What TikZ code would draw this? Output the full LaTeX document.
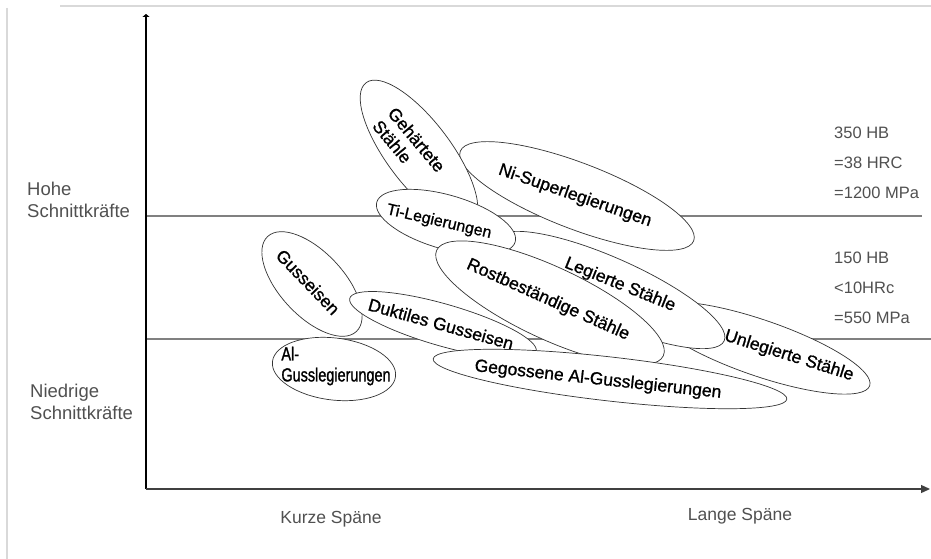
\documentclass[tikz,border=0pt]{standalone}
\usepackage{fontspec}
\setmainfont{Liberation Sans}
\newfontfamily\matfont[FakeBold=1]{Liberation Sans}
\newfontfamily\narrowfont[FakeStretch=0.76,FakeBold=1.2]{Liberation Sans}
\usetikzlibrary{shapes.geometric,arrows.meta}
\definecolor{framegray}{RGB}{217,217,217}
\definecolor{rulegray}{RGB}{128,128,128}
\definecolor{labelgray}{RGB}{80,80,80}
\tikzset{
  blob/.style={ellipse, draw=black!80, line width=0.7pt, fill=white, inner sep=0pt},
  mat/.style={font=\matfont\fontsize{17.5}{20}\selectfont, inner sep=0pt},
  side/.style={font=\fontsize{18.5}{22}\selectfont, text=labelgray, align=left, anchor=north west, inner sep=0pt},
  hard/.style={font=\fontsize{16.5}{30}\selectfont, text=labelgray, align=left, anchor=north west, inner sep=0pt},
  foot/.style={font=\fontsize{17.5}{20}\selectfont, text=labelgray, anchor=base, inner sep=0pt}
}
\begin{document}
\begin{tikzpicture}[x=1pt,y=-1pt]
\useasboundingbox (0,0) rectangle (931,559);

\pgfmathsetmacro{\ox}{146}
\pgfmathsetmacro{\oy}{489}
\pgfmathsetmacro{\hi}{216}
\pgfmathsetmacro{\lo}{339}

\coordinate (fr-tl) at (60,6);
\coordinate (fr-tr) at (931,6);
\coordinate (fr-lt) at (7,8);
\coordinate (fr-lb) at (7,559);
\draw[framegray, line width=2pt] (fr-tl) -- (fr-tr);
\draw[framegray, line width=2pt] (fr-lt) -- (fr-lb);

\coordinate (o) at (\ox,\oy);
\coordinate (ytop) at (\ox,14);
\coordinate (xend) at (930,\oy);
\coordinate (hi-l) at (\ox,\hi);
\coordinate (hi-r) at (922,\hi);
\coordinate (lo-l) at (\ox,\lo);
\coordinate (lo-r) at (931,\lo);

\draw[rulegray, line width=1.3pt] (hi-l) -- (hi-r);
\draw[rulegray, line width=1.3pt] (lo-l) -- (lo-r);
\draw[line width=1.1pt, -{Triangle[length=3pt,width=7pt]}] (o) -- (ytop);
\draw[black!75, line width=1.3pt, -{Triangle[length=9pt,width=8pt]}] (o) -- (xend);

\node[blob, minimum width=232pt, minimum height=56pt, rotate=-19] (unleg) at (760,348) {};
\node[mat, rotate=-17.5] (unleg-t) at (789,356) {Unlegierte Stähle};
\node[blob, minimum width=250pt, minimum height=64pt, rotate=-24] (leg) at (610,290) {};
\node[mat, rotate=-22] (leg-t) at (620,285) {Legierte Stähle};
\node[blob, minimum width=250pt, minimum height=66pt, rotate=-21] (ni) at (577,196) {};
\node[mat, rotate=-19] (ni-t) at (575,196) {Ni-Superlegierungen};
\node[blob, minimum width=176pt, minimum height=64pt, rotate=-53] (gehaert) at (419,153) {};
\node[mat, rotate=-50, align=left] (gehaert-t) at (409,146) {Gehärtete\\Stähle};
\node[blob, minimum width=144pt, minimum height=54pt, rotate=-16] (ti) at (446,222) {};
\node[mat, rotate=-13, font=\matfont\fontsize{16}{20}\selectfont] (ti-t) at (439,222) {Ti-Legierungen};
\node[blob, minimum width=250pt, minimum height=72pt, rotate=-25] (rost) at (550,303) {};
\node[mat, rotate=-24] (rost-t) at (548,300) {Rostbeständige Stähle};
\node[blob, minimum width=130pt, minimum height=64pt, rotate=-47] (guss) at (312,284) {};
\node[mat, rotate=-46] (guss-t) at (308,282) {Gusseisen};
\node[blob, minimum width=194pt, minimum height=42pt, rotate=-16] (dukt) at (443,325) {};
\node[mat, rotate=-15.5] (dukt-t) at (441,324) {Duktiles Gusseisen};
\node[blob, minimum width=124pt, minimum height=62pt, rotate=-7] (alguss) at (334,369) {};
\node[mat, align=left, font=\narrowfont\fontsize{19}{21}\selectfont] (alguss-t) at (336,366) {Al-\\Gusslegierungen};
\node[blob, minimum width=356pt, minimum height=44pt, rotate=-6.5] (gegoss) at (610,379) {};
\node[mat, rotate=-6.2] (gegoss-t) at (598,380) {Gegossene Al-Gusslegierungen};

\node[side] (hoch) at (27,182) {Hohe\\Schnittkräfte};
\node[side] (niedrig) at (30,384) {Niedrige\\Schnittkräfte};
\node[hard] (hb350) at (834,127) {350 HB\\=38 HRC\\=1200 MPa};
\node[hard] (hb150) at (834,252) {150 HB\\<10HRc\\=550 MPa};
\node[foot] (kurz) at (331,523) {Kurze Späne};
\node[foot] (lang) at (740,520) {Lange Späne};
\end{tikzpicture}
\end{document}
